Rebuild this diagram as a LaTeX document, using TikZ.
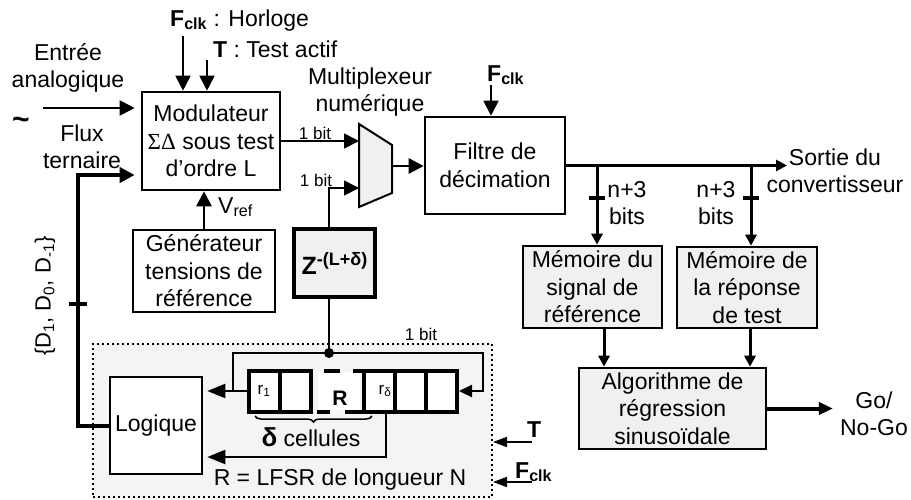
\documentclass[tikz,border=0pt]{standalone}
\usepackage{fontspec}
\setmainfont{Liberation Sans}
\newfontfamily\grserif{Liberation Serif}
\usetikzlibrary{arrows.meta,positioning,calc,decorations.pathreplacing}
\definecolor{boxgray}{HTML}{F0F0F0}
\definecolor{zonegray}{HTML}{F4F4F4}
\newcommand{\Fclk}{\textbf{F}\textsubscript{\textbf{clk}}}

\begin{document}
\begin{tikzpicture}[x=1pt, y=-1pt,
  font=\fontsize{23}{27.5}\selectfont, line join=miter,
  blk/.style={draw, line width=2.6pt, align=center, inner sep=0pt},
  gblk/.style={blk, fill=boxgray},
  cell/.style={draw, line width=4pt, fill=white, minimum width=31pt,
               minimum height=41pt, inner sep=0pt},
  lbl/.style={align=center, inner sep=0pt},
  small/.style={font=\fontsize{17}{19}\selectfont},
  zone/.style={draw, fill=zonegray, line width=2pt, dash pattern=on 2pt off 3pt,
               inner sep=0pt},
  thn/.style={line width=1.8pt, -{Triangle[length=15pt,width=15pt]}},
  med/.style={line width=2.6pt, -{Triangle[length=15pt,width=15pt]}},
  thk/.style={line width=4pt, -{Triangle[length=15pt,width=15pt]}},
  brn/.style={line width=3pt, -{Triangle[length=11pt,width=11pt]}},
  lp/.style={line width=2.3pt, -{Triangle[length=18pt,width=14pt]}},
  tick/.style={line width=3.2pt}]

\useasboundingbox (0,0) rectangle (911,499);

% main chain
\node[blk, minimum width=138pt, minimum height=98pt] (mod) at (211,141)
  {Modulateur\\{\grserif ΣΔ} sous test\\d’ordre L};
\node[blk, minimum width=142pt, minimum height=82pt] (gen) at (204,271)
  {Générateur\\tensions de\\référence};
\node[gblk, line width=4.5pt, minimum width=81pt, minimum height=68pt] (zdel) at (334.5,263)
  {\fontsize{25}{28}\selectfont\textbf{Z\raisebox{9pt}{\fontsize{18}{20}\selectfont -(L+δ)}}};
\node[blk, minimum width=140pt, minimum height=97pt] (filt) at (495,165.5)
  {Filtre de\\décimation};
\node[gblk, minimum width=139pt, minimum height=82pt] (memref) at (592.5,287)
  {Mémoire du\\signal de\\référence};
\node[gblk, minimum width=140pt, minimum height=81pt] (memtst) at (747,287.5)
  {Mémoire de\\la réponse\\de test};
\node[gblk, minimum width=187pt, minimum height=81pt] (algo) at (672.5,408.5)
  {Algorithme de\\régression\\sinusoïdale};

% multiplexer
\draw[line width=2pt, fill=boxgray] (359,124) -- (392,145) -- (392,193) -- (359,207) -- cycle;
\coordinate (mxA) at (359,141);
\coordinate (mxB) at (359,188);
\coordinate (mxO) at (392,166);
\node[lbl] (mxl) at (370,92) {Multiplexeur\\numérique};

% LFSR zone
\node[zone, minimum width=399pt, minimum height=153pt] (lfsr) at (292.5,420.5) {};
\node[blk, fill=white, minimum width=92pt, minimum height=97pt] (logi) at (156,425.5) {Logique};
\foreach \i/\cx in {1/264,2/295,3/379,4/410,5/441.5}
  \node[cell] (c\i) at (\cx,391) {};
\fill[white] (318,372) rectangle (360,410);
\draw[line width=4pt] (324,370.5) -- (340,370.5) (353,370.5) -- (364,370.5)
  (317,411.5) -- (330,411.5) (345,411.5) -- (364,411.5);
\node[font=\fontsize{17}{19}\selectfont] (r1) at (264,391) {r\textsubscript{1}};
\node[font=\fontsize{17}{19}\selectfont] (rd) at (385,391) {r\textsubscript{δ}};
\node[font=\fontsize{21}{24}\selectfont\bfseries] (rr) at (340,398) {R};
\draw[decorate, decoration={brace, mirror, amplitude=6pt}, line width=1.5pt]
  (255,416) -- (372,416);
\node (dcl) at (311,437) {{\fontsize{26}{28}\selectfont\textbf{δ}} cellules};
\node (lfl) at (340,480) {R = LFSR de longueur N};
\node[small] (b3) at (421,334) {1 bit};

% labels
\node[lbl] (ent) at (68,68) {Entrée\\analogique};
\node[font=\fontsize{30}{30}\selectfont\bfseries] (tld) at (21,123) {\textasciitilde};
\node[lbl] (flx) at (82,147) {Flux\\ternaire};
\node[rotate=90, font=\fontsize{22}{26}\selectfont] (dset) at (45,296)
  {\{D\textsubscript{1}, D\textsubscript{0}, D\textsubscript{-1}\}};
\node[anchor=base west, inner sep=0pt] (hor) at (170,26) {\Fclk{} : Horloge};
\node[anchor=base west, inner sep=0pt] (tst) at (213,57) {\textbf{T} : Test actif};
\node[anchor=base west, inner sep=0pt] (vref) at (218,213) {V\textsubscript{ref}};
\node[small] (b1l) at (315,133) {1 bit};
\node[small] (b2l) at (316,180) {1 bit};
\node[anchor=base west, inner sep=0pt] (ck2l) at (487,81) {\Fclk};
\node[lbl] (sor) at (835,171) {Sortie du\\convertisseur};
\node[lbl] (nb1) at (627,203) {n+3\\bits};
\node[lbl] (nb2) at (716,203) {n+3\\bits};
\node[lbl] (go) at (874,414) {Go/\\No-Go};
\node[anchor=base west, inner sep=0pt] (tl) at (527,437) {\textbf{T}};
\node[anchor=base west, inner sep=0pt] (cl) at (515,478) {\Fclk};

% connectors
\coordinate (ain) at (43,108);
\draw[thn, shorten >=6pt] (ain) -- (ain -| mod.west);
\coordinate (fxa) at (78,175);
\draw[thk, shorten >=6pt] (logi.west) -| (fxa) -- (fxa -| mod.west);
\draw[tick] (69,304) -- (87,304);
\coordinate (ck1) at (183,36);
\draw[thn] (ck1) -- (ck1 |- mod.north);
\coordinate (tt1) at (207,60);
\draw[thn] (tt1) -- (tt1 |- mod.north);
\draw[med] (gen.north) -- (gen.north |- mod.south);
\draw[thn] (mod.east) -- (mxA);
\coordinate (zx) at (329,0);
\draw[thn] (zdel.north -| zx) |- (mxB);
\draw[med] (mxO) -- (mxO -| filt.west);
\coordinate (ck2) at (491,85);
\draw[thn] (ck2) -- (ck2 |- filt.north);
\coordinate (out) at (787,165.5);
\draw[line width=3.5pt, -{Triangle[length=11pt,width=11pt]}] (filt.east) -- (out);
\coordinate (br1) at (597,165.5);
\coordinate (br2) at (751,165.5);
\draw[brn] (br1) -- (br1 |- memref.north);
\draw[brn] (br2) -- (br2 |- memtst.north);
\draw[tick] (589,198) -- (605,198);
\draw[tick] (743,198) -- (759,198);
\coordinate (a1) at (604,0);
\coordinate (a2) at (750,0);
\draw[brn] (memref.south -| a1) -- (a1 |- algo.north);
\draw[brn] (memtst.south -| a2) -- (a2 |- algo.north);
\draw[line width=4pt, -{Triangle[length=14pt,width=12pt]}, shorten >=7pt]
  (algo.east) -- (algo.east -| go.west);

% LFSR connections
\coordinate (tap) at (329,353);
\coordinate (lpL) at (233,391);
\coordinate (lpR) at (483,391);
\draw[line width=1.8pt] (zdel.south -| zx) -- (tap);
\draw[lp, shorten >=4pt] (c1.west) -- (c1.west -| logi.east);
\draw[line width=2.3pt, -{Triangle[length=13pt,width=12pt]}] (lpL) |- (tap) -| (lpR) -- (c5.east);
\fill (tap) circle (5pt);
\coordinate (rdx) at (386,457);
\draw[lp, shorten >=4pt] (c3.south -| rdx) |- (logi.east |- rdx);
\coordinate (tin) at (532,442);
\draw[line width=1.8pt, -{Triangle[length=14pt,width=10pt]}] (tin) -- (tin -| lfsr.east);
\coordinate (cin) at (532,482);
\draw[line width=1.8pt, -{Triangle[length=14pt,width=10pt]}] (cin) -- (cin -| lfsr.east);

\end{tikzpicture}
\end{document}
